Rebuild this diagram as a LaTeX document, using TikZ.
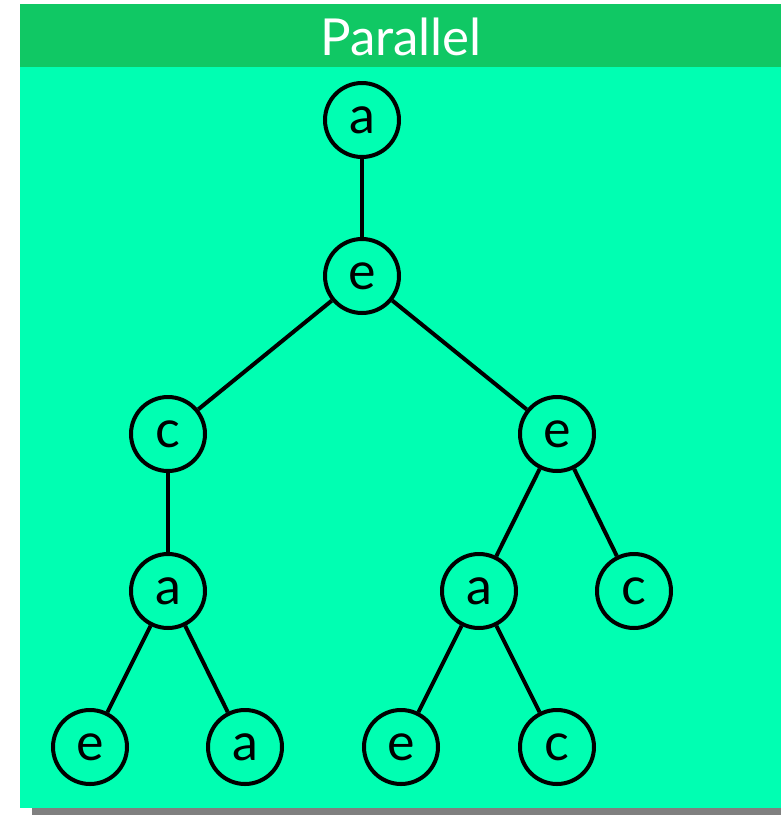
\documentclass[tikz,border=0pt]{standalone}
\usepackage{fontspec}
\setmainfont{Lato}
\begin{document}
\definecolor{headgreen}{RGB}{16,200,100}
\definecolor{bodygreen}{RGB}{0,255,178}
\definecolor{shadowgray}{RGB}{128,128,128}
\begin{tikzpicture}[x=1pt,y=-1pt,
  tnode/.style={circle,draw=black,line width=4pt,minimum size=74pt,inner sep=0pt,
    font=\fontsize{52}{52}\selectfont},
  edge/.style={line width=4pt}]
\useasboundingbox (0,0) rectangle (781,815);
% panel with shadow and title band
\fill[shadowgray] (32,16) rectangle (781,815);
\fill[bodygreen] (20,4) rectangle (781,808);
\fill[headgreen] (20,4) rectangle (781,67);
\node[text=white,font=\fontsize{51}{51}\selectfont] (title) at (401,37) {Parallel};
% tree
\node[tnode] (n1) at (362,120) {a};
\node[tnode] (n2) at (362,276) {e};
\node[tnode] (n3) at (168,434) {c};
\node[tnode] (n4) at (557,434) {e};
\node[tnode] (n5) at (168,591) {a};
\node[tnode] (n6) at (479,591) {a};
\node[tnode] (n7) at (634,591) {c};
\node[tnode] (n8) at (90,747) {e};
\node[tnode] (n9) at (245,747) {a};
\node[tnode] (n10) at (401,747) {e};
\node[tnode] (n11) at (557,747) {c};
\draw[edge] (n1) -- (n2);
\draw[edge] (n2) -- (n3);
\draw[edge] (n2) -- (n4);
\draw[edge] (n3) -- (n5);
\draw[edge] (n4) -- (n6);
\draw[edge] (n4) -- (n7);
\draw[edge] (n5) -- (n8);
\draw[edge] (n5) -- (n9);
\draw[edge] (n6) -- (n10);
\draw[edge] (n6) -- (n11);
\end{tikzpicture}
\end{document}
